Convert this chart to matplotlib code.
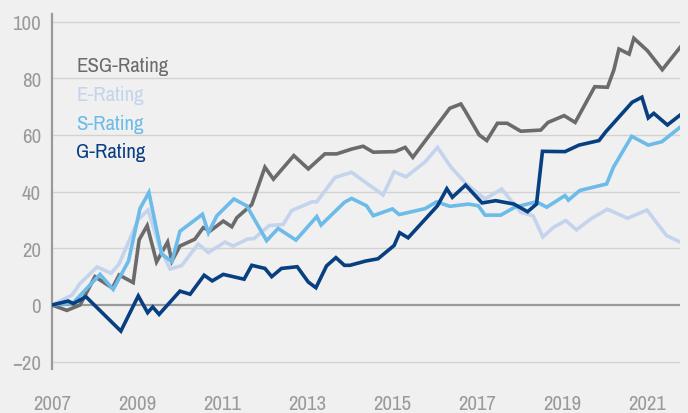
import matplotlib
matplotlib.use("Agg")
import matplotlib.pyplot as plt
from matplotlib import font_manager
import numpy as np

# pick a narrow face if one is installed
narrow = [f.name for f in font_manager.fontManager.ttflist
          if 'Narrow' in f.name or 'Condensed' in f.name]
plt.rcParams['font.family'] = (narrow[:1] or []) + ['DejaVu Sans']
plt.rcParams['font.stretch'] = 'condensed'

# values (decimal years, index points)
esg_t = [0, 0.35, 0.66, 1.01, 1.42, 1.58, 1.91, 2.05, 2.24, 2.46, 2.72, 2.82, 3.01,
         3.36, 3.56, 3.72, 4.03, 4.23, 4.35, 4.70, 5.01, 5.21, 5.69, 6.03, 6.42,
         6.70, 7.05, 7.32, 7.56, 8.07, 8.31, 8.49, 9.36, 9.62, 9.72, 10.05, 10.23,
         10.48, 10.71, 11.03, 11.50, 11.67, 12.05, 12.31, 12.77, 13.07, 13.22,
         13.34, 13.58, 13.69, 14.01, 14.36, 14.78]
esg_v = [0, -1.9, 0, 10, 6, 10.6, 7.9, 23, 28, 15.2, 22.2, 15.5, 20.8,
         23.2, 27.3, 26.1, 29.6, 27.6, 30.8, 35.4, 48.6, 44.4, 52.7, 48, 53.3,
         53.3, 55, 56, 53.9, 54.1, 55.6, 52.1, 69.4, 70.9, 68.5, 60, 58,
         64.1, 64.1, 61.3, 61.7, 64.4, 66.8, 64.4, 77, 76.8, 82.9,
         90.3, 88.5, 94.1, 89.7, 83, 90.9]

e_t = [0, 0.47, 0.66, 1.06, 1.39, 1.58, 2.03, 2.26, 2.54, 2.78, 3.05, 3.44, 3.68,
       4.07, 4.26, 4.61, 4.75, 5.11, 5.44, 5.64, 6.12, 6.23, 6.66, 7.05, 7.79,
       8.05, 8.33, 8.78, 9.07, 9.39, 9.73, 9.95, 10.19, 10.58, 11.03, 11.32,
       11.55, 11.80, 12.09, 12.34, 12.68, 13.07, 13.54, 14.0, 14.46, 14.78]
e_v = [0, 3.5, 7.6, 13.4, 11.2, 14.5, 30.2, 33.5, 20, 12.7, 13.9, 21.5, 18.5,
       22.2, 20.8, 23.3, 23.4, 28, 28.4, 33.3, 36.4, 36.4, 45, 46.8, 38.8,
       47, 45.2, 50.5, 55.6, 48.6, 43, 40.3, 37.4, 40.9, 32.7, 31.5,
       24, 27.4, 29.8, 26.5, 30.4, 33.8, 30.6, 33.5, 24.5, 22.2]

s_t = [0, 0.50, 1.13, 1.44, 1.80, 2.07, 2.28, 2.58, 2.82, 3.01, 3.54, 3.68, 3.88,
       4.28, 4.58, 5.05, 5.32, 5.74, 6.23, 6.33, 6.88, 7.05, 7.40, 7.56, 8.01,
       8.17, 8.78, 9.05, 9.36, 9.80, 10.03, 10.19, 10.56, 10.89, 11.40, 11.64,
       12.07, 12.15, 12.42, 13.05, 13.21, 13.64, 14.03, 14.35, 14.78]
s_v = [0, 0.8, 10.8, 5.5, 15.5, 34, 39.7, 18, 15.3, 26, 32, 25.5, 31.5,
       37.4, 35, 22.7, 27, 22.9, 31.2, 28.2, 36.2, 37.6, 35, 31.5, 33.9,
       31.9, 34, 36.4, 34.8, 35.6, 35, 31.7, 31.7, 34.5, 36.4, 34.5,
       38.6, 37, 40.4, 42.7, 48.6, 59.5, 56.4, 57.6, 62.7]

g_t = [0, 0.38, 0.50, 0.80, 1.62, 2.03, 2.25, 2.37, 2.52, 3.01, 3.25, 3.58, 3.77,
       4.03, 4.52, 4.70, 5.01, 5.17, 5.40, 5.77, 6.03, 6.21, 6.46, 6.68, 6.88,
       7.01, 7.38, 7.67, 8.05, 8.18, 8.38, 9.07, 9.29, 9.42, 9.73, 10.12, 10.44,
       10.87, 11.19, 11.40, 11.54, 12.07, 12.40, 12.87, 13.03, 13.65, 13.88,
       14.03, 14.16, 14.48, 14.78]
g_v = [0, 1.4, 0.5, 2.9, -9.2, 3.2, -2.7, -0.7, -3.3, 4.9, 3.8, 10.5, 8.5,
       10.8, 9.1, 14, 12.9, 10, 12.9, 13.5, 8.1, 6.1, 13.8, 16.7, 14,
       14, 15.5, 16.3, 21, 25.5, 23.7, 35, 41, 38, 42.3, 36, 36.8,
       35.6, 32.9, 35.6, 54.2, 54.1, 56.4, 58, 61.1, 71.5, 73.3,
       66, 67.6, 63.5, 67]

names = ['ESG-Rating', 'E-Rating', 'S-Rating', 'G-Rating']
colors = ['#6b6b6b', '#c3d4ec', '#6cbbe9', '#083f80']
series = [(esg_t, esg_v), (e_t, e_v), (s_t, s_v), (g_t, g_v)]
years = [2007, 2009, 2011, 2013, 2015, 2017, 2019, 2021]
yticks = [-20, 0, 20, 40, 60, 80, 100]

bg = '#f0f0f0'
fig = plt.figure(figsize=(6.88, 4.14), dpi=100, facecolor=bg)
ax = fig.add_axes([52/688, 44/414, 628/688, 355/414], facecolor=bg)

for y in yticks:
    if y == 0:
        ax.axhline(y, color='#9a9a9a', lw=1.6, zorder=1)
    else:
        ax.axhline(y, color='#d2d2d2', lw=1.0, zorder=1)

# E first so the others sit on top of it
order = [1, 2, 0, 3]
for i in order:
    t, v = series[i]
    ax.plot(2007 + np.array(t), v, color=colors[i], lw=2.6, zorder=3 + i,
            solid_joinstyle='miter')

ax.set_xlim(2007, 2007 + 628/42.5)
ax.set_ylim((306 - 370)/2.835, (306 - 15)/2.835)
ax.set_xticks(years)
ax.set_yticks(yticks)
ax.tick_params(axis='x', length=0, pad=18, labelsize=15, labelcolor='#9a9a9a')
ax.tick_params(axis='y', length=0, pad=8, labelsize=15, labelcolor='#9a9a9a')
for s in ['top', 'right', 'bottom']:
    ax.spines[s].set_visible(False)
ax.spines['left'].set_color('#9a9a9a')
ax.spines['left'].set_linewidth(1.6)

for k, (n, c) in enumerate(zip(names, colors)):
    fig.text(76/688, 1 - (67 + 28.5*k)/414, n, color=c, fontsize=15,
             va='center', ha='left')

fig.savefig('out.png', dpi=100, facecolor=bg)
